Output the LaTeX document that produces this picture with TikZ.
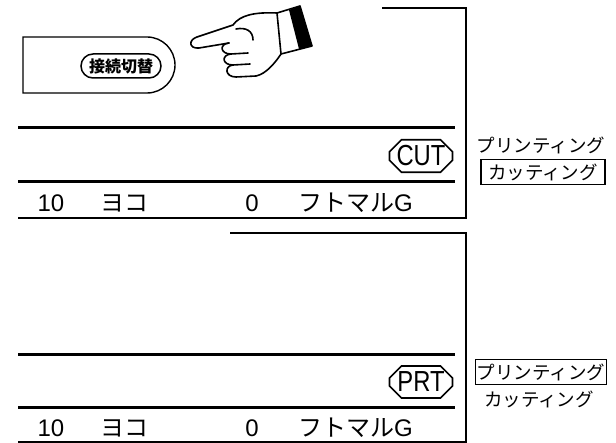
\documentclass[tikz,border=0pt]{standalone}
\usepackage{fontspec}
\setmainfont{Noto Sans CJK JP}
\newfontfamily\latinfont{Liberation Sans}
\usetikzlibrary{shapes.misc}

\begin{document}
\begin{tikzpicture}[x=1pt,y=-1pt,
  frame/.style={line width=1.4pt},
  bar/.style={line width=3pt},
  modebadge/.style={draw,line width=1.6pt,chamfered rectangle,chamfered rectangle xsep=6pt,chamfered rectangle ysep=6pt,
    minimum width=63pt,minimum height=31pt,inner sep=0pt,font=\latinfont\fontsize{29}{29}\selectfont},
  status/.style={inner sep=0pt,font=\fontsize{24}{24}\selectfont},
  modelabel/.style={inner sep=1.5pt,font=\fontsize{18.5}{18.5}\selectfont},
  modebox/.style={modelabel,draw,line width=1.2pt,minimum width=124pt,minimum height=25pt}]

\useasboundingbox (0,0) rectangle (616,443);

% upper screen
\draw[frame] (382,8) -| (466,218) -- (18,218);
\draw[bar] (18,128) -- (455,128);
\draw[bar] (18,182) -- (455,182);

\node[draw,frame,rounded rectangle,rounded rectangle left arc=none,minimum width=152pt,minimum height=56pt,inner sep=0pt] (switch) at (99,65) {};
\node[draw,rounded rectangle,line width=1.5pt,minimum width=84pt,minimum height=24pt,inner sep=2pt,font=\bfseries\fontsize{16}{16}\selectfont] (switchkey) at (121,66) {接続切替};

\node[modebadge] (cut) at (421,156) {\scalebox{0.82}[1]{CUT}};

\node[status] (pitchA) at (51,203) {\latinfont 10};
\node[status] (dirA) at (124,203) {ヨコ};
\node[status] (countA) at (252,203) {\latinfont 0};
\node[status,anchor=west] (fontA) at (298,203) {フトマル\latinfont G};

\node[modelabel] (printA) at (541,145) {プリンティング};
\node[modebox] (cutboxA) at (543,172) {カッティング};

% pointing hand
\begin{scope}[line width=1.6pt,line join=round,line cap=round]
\draw (229,43) -- (199,48) .. controls (189,49) and (188,40) .. (197,37)
      -- (233,25) .. controls (240,15) and (255,12) .. (277,13);
\draw (229,43) .. controls (219,44) and (220,54) .. (231,54) -- (248,53);
\draw (231,54) .. controls (221,55) and (222,65) .. (233,65) -- (250,64);
\draw (233,65) .. controls (224,66) and (225,77) .. (236,77) -- (256,76) .. controls (266,74) and (275,63) .. (281,54);
\draw (236,29) .. controls (246,27) and (253,31) .. (253,40);
\draw (277,13) -- (300,6) -- (312,46) -- (281,54) -- cycle;
\fill (289,10) -- (300,6) -- (312,46) -- (299,49) -- cycle;
\end{scope}

% lower screen
\draw[frame] (230,233) -| (466,443);
\draw[bar] (18,355) -- (455,355);
\draw[bar] (18,408) -- (455,408);
\draw[frame] (18,442) -- (466,442);

\node[modebadge] (prt) at (421,382) {\scalebox{0.82}[1]{PRT}};

\node[status] (pitchB) at (51,428) {\latinfont 10};
\node[status] (dirB) at (124,428) {ヨコ};
\node[status] (countB) at (252,428) {\latinfont 0};
\node[status,anchor=west] (fontB) at (298,428) {フトマル\latinfont G};

\node[modebox] (printboxB) at (541,372) {プリンティング};
\node[modelabel] (cutB) at (539,399) {カッティング};

\end{tikzpicture}
\end{document}
